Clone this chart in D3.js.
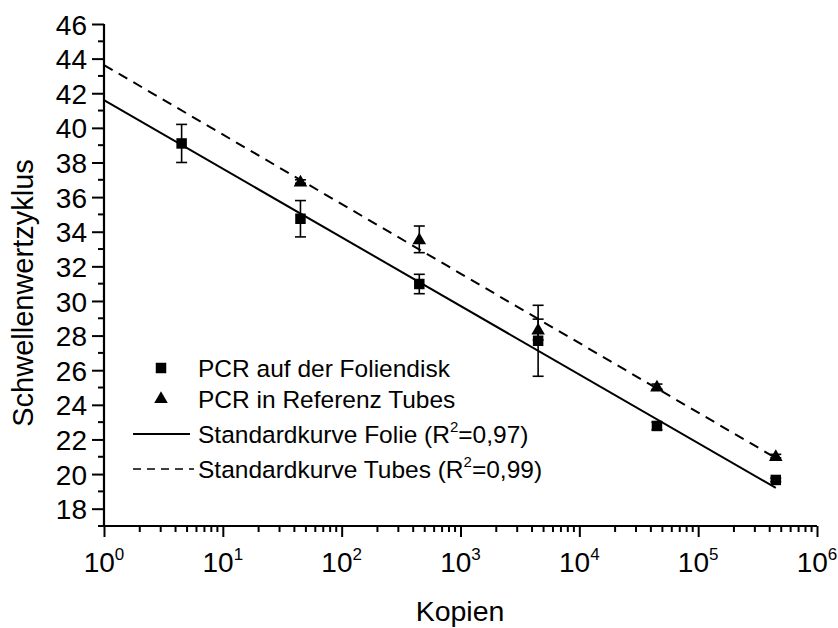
<!DOCTYPE html>
<html><head><meta charset="utf-8">
<script src="https://cdn.jsdelivr.net/npm/d3@7"></script>
<style>
html,body{margin:0;padding:0;background:#fff;}
svg text{font-family:"Liberation Sans",Arial,sans-serif;fill:#000;}
</style></head>
<body><svg id="c" width="838" height="628"></svg>
<script>
// ---- data ----
const copies = [4.5, 45, 450, 4500, 45000, 450000];
const folieCt = [39.1, 34.75, 30.98, 27.7, 22.78, 19.66];
const folieErr = [1.1, 1.05, 0.56, 2.05, 0.22, 0.1];
const tubesCopies = [45, 450, 4500, 45000, 450000];
const tubesCt = [36.9, 33.56, 28.35, 25.05, 21.04];
const tubesErr = [0.1, 0.77, 0.6, 0.15, 0.1];
const fitX = [1, 450000];
const fitFolie = [41.6, 19.2];
const fitTubes = [43.63, 20.93];
const yTickValues = [18,20,22,24,26,28,30,32,34,36,38,40,42,44,46];
const xTickExponents = [0,1,2,3,4,5,6];
const legendLabels = ["PCR auf der Foliendisk","PCR in Referenz Tubes","Standardkurve Folie (R","Standardkurve Tubes (R"];
const legendR2 = ["=0,97)","=0,99)"];

const svg = d3.select("#c");
const x = d3.scaleLog().domain([1,1e6]).range([104,817]);
const y = d3.scaleLinear().domain([17,46]).range([526,24]);

// axes
const yAxis = d3.axisLeft(y).tickValues(yTickValues).tickSize(12).tickPadding(5).tickFormat(d3.format("d"));
const gy = svg.append("g").attr("transform","translate(104,0)").call(yAxis);
gy.attr("font-family",null).attr("font-size",null);
gy.select(".domain").attr("stroke-width",2.2).attr("d","M0,"+y(17)+"V"+y(46));
gy.selectAll(".tick line").attr("stroke-width",2);
gy.selectAll(".tick text").attr("font-size",28).attr("dy","0.36em");
// minor y ticks
const yMinor = d3.range(17,46,2);
gy.selectAll(".minor").data(yMinor).enter().append("line")
  .attr("x1",-6).attr("x2",0).attr("y1",d=>y(d)).attr("y2",d=>y(d))
  .attr("stroke","#000").attr("stroke-width",2);

const xMajor = xTickExponents.map(e=>Math.pow(10,e));
const xAxis = d3.axisBottom(x).tickValues(xMajor).tickSize(11).tickFormat("");
const gx = svg.append("g").attr("transform","translate(0,526)").call(xAxis);
gx.select(".domain").attr("stroke-width",2.2).attr("d","M98,0H"+x(1e6));
gx.selectAll(".tick line").attr("stroke-width",2);
const xMinor = [];
for (let e=0;e<6;e++) for (let m=2;m<=9;m++) xMinor.push(m*Math.pow(10,e));
gx.selectAll(".minor").data(xMinor).enter().append("line")
  .attr("x1",d=>x(d)).attr("x2",d=>x(d)).attr("y1",0).attr("y2",6)
  .attr("stroke","#000").attr("stroke-width",2);
// x tick labels with superscripts
xTickExponents.forEach(e=>{
  const t = svg.append("text").attr("x",x(Math.pow(10,e))).attr("y",572)
    .attr("text-anchor","middle").attr("font-size",28);
  t.append("tspan").text("10");
  t.append("tspan").attr("dy",-12).attr("font-size",17).text(String(e));
});

// axis titles
svg.append("text").attr("x",460).attr("y",621).attr("text-anchor","middle")
  .attr("font-size",28.5).text("Kopien");
svg.append("text").attr("transform","translate(33,293) rotate(-90)")
  .attr("text-anchor","middle").attr("font-size",29).text("Schwellenwertzyklus");

// fit lines
const line = d3.line().x(d=>x(d[0])).y(d=>y(d[1]));
svg.append("path").datum(fitX.map((v,i)=>[v,fitFolie[i]])).attr("d",line)
  .attr("fill","none").attr("stroke","#000").attr("stroke-width",2);
svg.append("path").datum(fitX.map((v,i)=>[v,fitTubes[i]])).attr("d",line)
  .attr("fill","none").attr("stroke","#000").attr("stroke-width",2).attr("stroke-dasharray","10,7");

// error bars
function errBars(xs, ys, es){
  const g = svg.append("g").attr("stroke","#000").attr("stroke-width",1.6);
  xs.forEach((xv,i)=>{
    if (es[i] <= 0) return;
    const cx = x(xv), y1 = y(ys[i]+es[i]), y2 = y(ys[i]-es[i]);
    g.append("line").attr("x1",cx).attr("x2",cx).attr("y1",y1).attr("y2",y2);
    g.append("line").attr("x1",cx-5.5).attr("x2",cx+5.5).attr("y1",y1).attr("y2",y1);
    g.append("line").attr("x1",cx-5.5).attr("x2",cx+5.5).attr("y1",y2).attr("y2",y2);
  });
}
errBars(copies, folieCt, folieErr);
errBars(tubesCopies, tubesCt, tubesErr);

// markers
const sq = d3.symbol().type(d3.symbolSquare).size(110);
const tri = d3.symbol().type(d3.symbolTriangle).size(80);
svg.append("g").selectAll("path").data(copies).enter().append("path")
  .attr("d",sq).attr("transform",(d,i)=>`translate(${x(d)},${y(folieCt[i])})`).attr("fill","#000");
svg.append("g").selectAll("path").data(tubesCopies).enter().append("path")
  .attr("d",tri).attr("transform",(d,i)=>`translate(${x(d)},${y(tubesCt[i])+1})`).attr("fill","#000");

// legend
const lg = svg.append("g");
lg.append("path").attr("d",sq).attr("transform","translate(161,368)").attr("fill","#000");
lg.append("path").attr("d",tri).attr("transform","translate(161,399)").attr("fill","#000");
lg.append("line").attr("x1",133).attr("x2",190).attr("y1",434).attr("y2",434).attr("stroke","#000").attr("stroke-width",2);
lg.append("line").attr("x1",133).attr("x2",194).attr("y1",469).attr("y2",469).attr("stroke","#000").attr("stroke-width",1.5).attr("stroke-dasharray","8,6");
const ly = [368,399,434,469];
legendLabels.forEach((s,i)=>{
  const t = lg.append("text").attr("x",198).attr("y",ly[i]+8.5).attr("font-size",24.5);
  t.append("tspan").text(s);
  if (i>=2){
    t.append("tspan").attr("dy",-11).attr("font-size",15).text("2");
    t.append("tspan").attr("dy",11).text(legendR2[i-2]);
  }
});
</script></body></html>
